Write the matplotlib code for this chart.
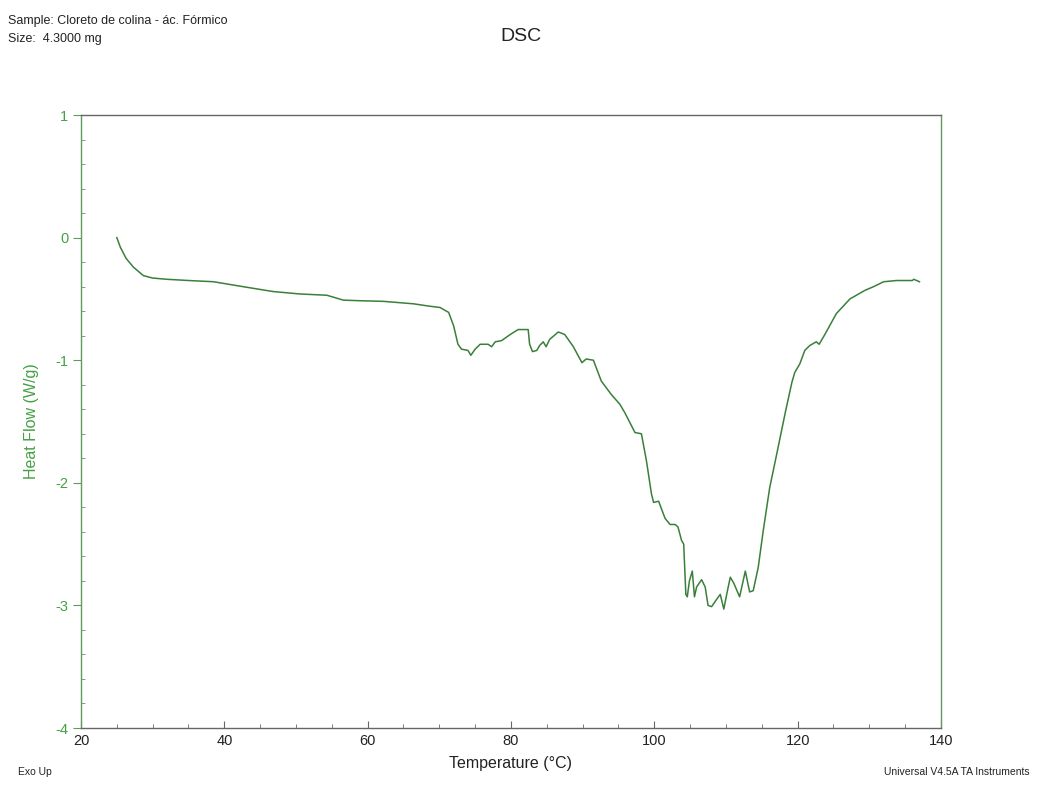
import matplotlib
matplotlib.use("Agg")
import matplotlib.pyplot as plt
from matplotlib.ticker import MultipleLocator

plt.rcParams["axes.unicode_minus"] = False

temperature = [25.0, 25.5, 26.3, 27.3, 28.7, 30.0, 32.0, 35.0, 38.5, 42.6, 46.8, 50.6, 54.3, 56.6,
               59.0, 62.2, 66.4, 68.7, 70.1, 71.3, 72.0, 72.6, 73.1, 74.0, 74.4, 75.0, 75.7,
               76.8, 77.3, 77.8, 78.7, 79.9, 81.0, 82.4, 82.6, 83.0, 83.6, 84.0, 84.5, 84.9,
               85.4, 86.6, 87.5, 88.7, 89.9, 90.5, 91.5, 92.6, 94.0, 95.2, 95.9, 97.3, 98.2,
               98.9, 99.6, 99.9, 100.6, 101.5, 102.2, 102.9, 103.3, 103.8, 104.1, 104.4, 104.6,
               104.9, 105.3, 105.6, 105.9, 106.6, 107.1, 107.5, 108.0, 108.7, 109.2, 109.7,
               110.1, 110.6, 111.1, 111.9, 112.7, 113.3, 113.8, 114.5, 115.2, 116.1, 117.1,
               118.3, 119.2, 119.6, 120.3, 121.0, 121.7, 122.6, 123.0, 123.8, 125.4, 127.3,
               129.4, 130.6, 132.0, 133.8, 136.0, 136.2, 137.0]
heat_flow = [0.00, -0.08, -0.17, -0.24, -0.31, -0.33, -0.34, -0.35, -0.36, -0.40, -0.44, -0.46,
             -0.47, -0.51, -0.515, -0.52, -0.54, -0.56, -0.57, -0.61, -0.72, -0.87, -0.91, -0.92,
             -0.96, -0.91, -0.87, -0.87, -0.89, -0.85, -0.84, -0.79, -0.75, -0.75, -0.87, -0.93,
             -0.92, -0.88, -0.85, -0.89, -0.83, -0.77, -0.79, -0.89, -1.02, -0.99, -1.00, -1.17,
             -1.28, -1.36, -1.43, -1.59, -1.60, -1.82, -2.09, -2.16, -2.15, -2.29, -2.34, -2.34,
             -2.36, -2.47, -2.50, -2.91, -2.93, -2.80, -2.72, -2.93, -2.85, -2.79, -2.85, -3.00,
             -3.01, -2.95, -2.91, -3.03, -2.91, -2.77, -2.82, -2.93, -2.72, -2.89, -2.88, -2.69,
             -2.39, -2.04, -1.76, -1.42, -1.18, -1.10, -1.03, -0.92, -0.88, -0.85, -0.87, -0.79,
             -0.62, -0.50, -0.43, -0.40, -0.36, -0.35, -0.35, -0.34, -0.36]

x_ticks = [20, 40, 60, 80, 100, 120, 140]
y_ticks = [-4, -3, -2, -1, 0, 1]

GREEN_LINE = "#3a7f3a"
GREEN_TEXT = "#45a045"
GREEN_SPINE = "#5f9a5f"
FONT = "Liberation Sans"

fig = plt.figure(figsize=(10.37, 7.85), dpi=100)
ax = fig.add_axes([0.0781, 0.0726, 0.8293, 0.7809])
ax.plot(temperature, heat_flow, color=GREEN_LINE, lw=1.1)

ax.set_xlim(20, 140)
ax.set_ylim(-4, 1)
ax.set_xticks(x_ticks)
ax.set_yticks(y_ticks)
ax.xaxis.set_minor_locator(MultipleLocator(5))
ax.yaxis.set_minor_locator(MultipleLocator(0.2))

for s in ["top", "bottom"]:
    ax.spines[s].set_color("#666666")
for s in ["left", "right"]:
    ax.spines[s].set_color(GREEN_SPINE)
for s in ax.spines.values():
    s.set_linewidth(1.0)

ax.tick_params(axis="x", which="both", direction="in", colors="#666666", labelcolor="#222222",
               labelsize=10.5, length=5, pad=4)
ax.tick_params(axis="x", which="minor", length=3)
ax.tick_params(axis="y", which="major", direction="out", colors=GREEN_SPINE, labelcolor=GREEN_TEXT,
               labelsize=10.5, length=6, pad=3)
ax.tick_params(axis="y", which="minor", direction="in", colors=GREEN_SPINE, length=3)
for lab in ax.get_xticklabels() + ax.get_yticklabels():
    lab.set_fontfamily(FONT)

ax.set_xlabel("Temperature (°C)", fontsize=11.5, fontfamily=FONT, color="#222222", labelpad=6)
ax.set_ylabel("Heat Flow (W/g)", fontsize=11.5, fontfamily=FONT, color=GREEN_TEXT, labelpad=12)

fig.text(0.008, 0.981, "Sample: Cloreto de colina - ác. Fórmico", fontsize=9, fontfamily=FONT,
         va="top", ha="left", color="#222222")
fig.text(0.008, 0.958, "Size:  4.3000 mg", fontsize=9, fontfamily=FONT,
         va="top", ha="left", color="#222222")
fig.text(0.502, 0.953, "DSC", fontsize=14, fontfamily=FONT, va="center", ha="center",
         color="#222222")
fig.text(0.017, 0.017, "Exo Up", fontsize=7.5, fontfamily=FONT, va="center", ha="left",
         color="#222222")
fig.text(0.993, 0.017, "Universal V4.5A TA Instruments", fontsize=7.5, fontfamily=FONT,
         va="center", ha="right", color="#222222")

fig.savefig("out.png", dpi=100)
